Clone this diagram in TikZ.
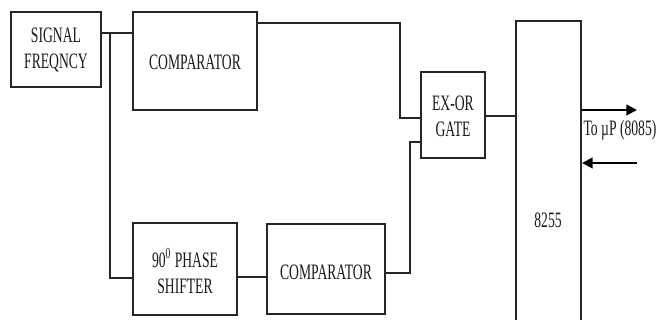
\documentclass[tikz,border=0pt]{standalone}
\usepackage{fontspec}
\setmainfont{Liberation Serif}[FakeStretch=0.62]
\usetikzlibrary{arrows.meta}
\begin{document}
\begin{tikzpicture}[x=0.75pt,y=-0.75pt,
  blk/.style={draw=black!85, line width=0.8pt},
  lbl/.style={font=\fontsize{16.5}{19.5}\selectfont, align=center, text=black!90, inner sep=0pt},
  wire/.style={draw=black!85, line width=0.8pt},
  bus/.style={draw=black, line width=1.6pt, -{Triangle[length=8pt,width=8pt]}}]
\useasboundingbox (0,0) rectangle (658,320);
\clip (0,0) rectangle (658,320);
% boxes
\draw[blk] (11,12) rectangle (101,87);
\node[lbl] (sig) at (56,50) {SIGNAL\\FREQNCY};
\draw[blk] (133,12) rectangle (257,110);
\node[lbl] (c1) at (195,62) {COMPARATOR};
\draw[blk] (421,72) rectangle (485,158);
\node[lbl] (xor) at (453,116) {EX-OR\\GATE};
\draw[blk] (516,21) rectangle (581,330);
\node[lbl] (ppi) at (548,220) {8255};
\draw[blk] (133,223) rectangle (237,315);
\node[lbl] (ps) at (185,271) {90\textsuperscript{0}\,PHASE\\SHIFTER};
\draw[blk] (267,224) rectangle (385,314);
\node[lbl] (c2) at (326,272) {COMPARATOR};
% connection points
\coordinate (sigout) at (101,33);
\coordinate (jn) at (110,33);
\coordinate (c1in) at (133,33);
\coordinate (c1out) at (257,23);
\coordinate (x1) at (421,118);
\coordinate (x2) at (421,142);
\coordinate (xout) at (485,116);
\coordinate (pin) at (516,116);
\coordinate (psin) at (133,278);
\coordinate (psout) at (237,277);
\coordinate (c2in) at (267,277);
\coordinate (c2out) at (385,273);
\coordinate (pr1) at (581,110);
\coordinate (pr2) at (637,110);
\coordinate (pl1) at (637,163);
\coordinate (pl2) at (582,163);
\coordinate (lbpos) at (620,130);
% wires
\draw[wire] (sigout) -- (c1in);
\draw[wire] (jn) |- (psin);
\draw[wire] (c1out) -| (400,118) -- (x1);
\draw[wire] (c2out) -| (410,142) -- (x2);
\draw[wire] (psout) -- (c2in);
\draw[wire] (xout) -- (pin);
\draw[bus] (pr1) -- (pr2);
\draw[bus] (pl1) -- (pl2);
\node[lbl] (tomp) at (lbpos) {To µP (8085)};
\end{tikzpicture}
\end{document}
